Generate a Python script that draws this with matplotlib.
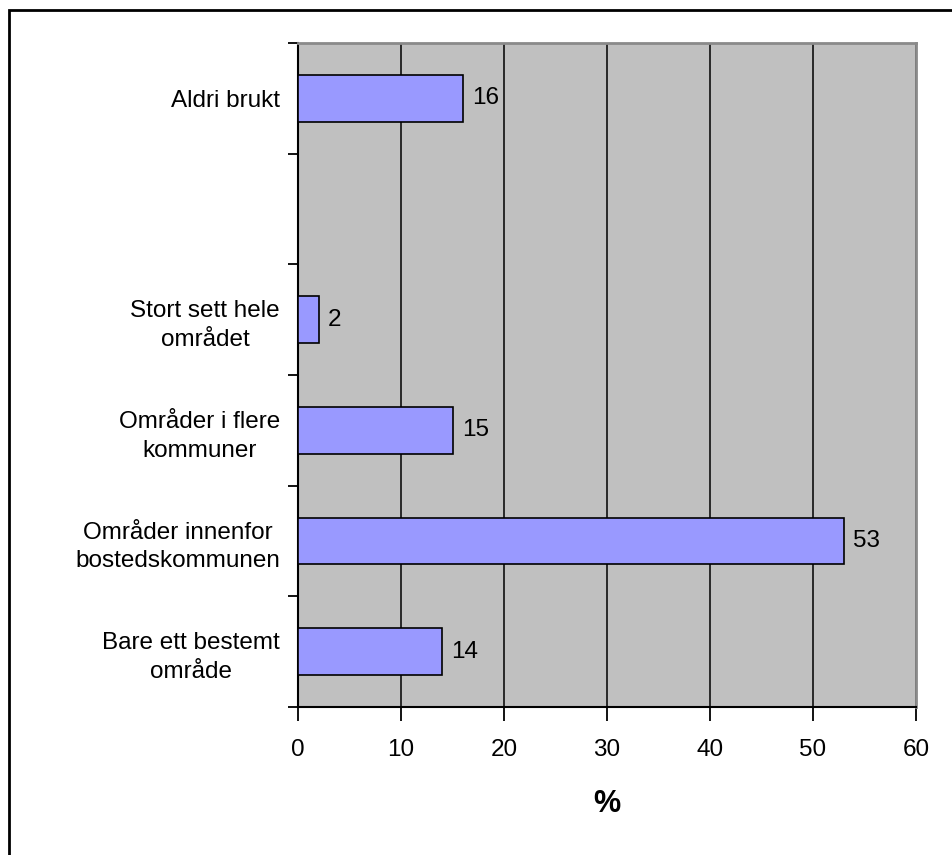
import numpy as np
import matplotlib.pyplot as plt
from matplotlib.patches import Rectangle

plt.rcParams['font.family'] = ['Liberation Sans', 'DejaVu Sans']

# bottom to top, one empty slot between "Stort sett" and "Aldri brukt"
labels = ['Bare ett bestemt\nområde', 'Områder innenfor\nbostedskommunen',
          'Områder i flere\nkommuner', 'Stort sett hele\nområdet', '', 'Aldri brukt']
values = [14, 53, 15, 2, None, 16]
xticks = [0, 10, 20, 30, 40, 50, 60]

fig = plt.figure(figsize=(9.53, 8.55), dpi=100)
fig.patches.append(Rectangle((9.5/953, -0.1), 1.2, 1 - 10.5/855 + 0.1, transform=fig.transFigure,
                             fill=False, edgecolor='black', linewidth=2))

ax = fig.add_axes([298/953, 1-707/855, 618/953, 664/855])
ax.set_facecolor('#c0c0c0')

pos = np.arange(len(labels))
for p, v in zip(pos, values):
    if v is None:
        continue
    ax.barh(p, v, height=0.42, color='#9999ff', edgecolor='black', linewidth=1.2, zorder=3)
    ax.text(v + 0.9, p, str(v), va='center', ha='left', fontsize=17.5, zorder=4)

ax.set_xlim(0, 60)
ax.set_ylim(-0.5, len(labels) - 0.5)
ax.set_xticks(xticks)
ax.set_xticklabels([str(t) for t in xticks], fontsize=17.5)
ax.tick_params(axis='x', length=10, width=1.3, direction='out', pad=13)
ax.xaxis.grid(True, color='black', linewidth=1.1)
ax.set_axisbelow(True)

ax.set_yticks(np.arange(len(labels) + 1) - 0.5)
ax.set_yticklabels([])
ax.tick_params(axis='y', which='major', length=7, width=1.3, direction='out')
ax.set_yticks(pos, minor=True)
ax.set_yticklabels(labels, minor=True, fontsize=17.5, multialignment='center', linespacing=1.4)
ax.tick_params(axis='y', which='minor', length=0, pad=13)

for s in ['left', 'bottom']:
    ax.spines[s].set_linewidth(1.5)
    ax.spines[s].set_color('black')
for s in ['top', 'right']:
    ax.spines[s].set_linewidth(2)
    ax.spines[s].set_color('#8a8a8a')

ax.set_xlabel('%', fontsize=22, fontweight='bold', labelpad=20)

fig.savefig('out.png', dpi=100)
